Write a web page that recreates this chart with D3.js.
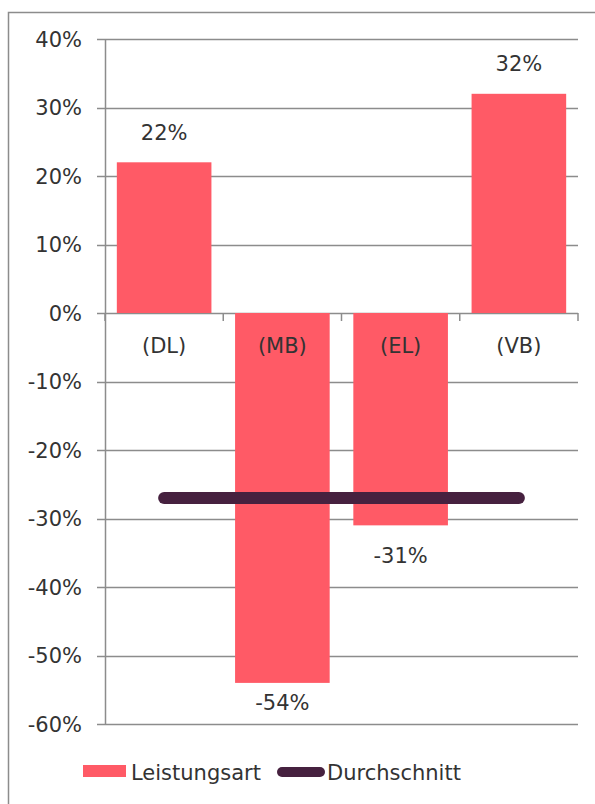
<!DOCTYPE html>
<html lang="de">
<head>
<meta charset="utf-8">
<title>Leistungsart vs. Durchschnitt</title>
<script src="https://cdn.jsdelivr.net/npm/d3@7"></script>
<style>
  body { margin: 0; background: #fff; }
  svg { display: block; }
  .lbl { font-family: "DejaVu Sans", sans-serif; font-size: 21px; fill: #333; }
</style>
</head>
<body>
<script>
// data
var categories = ["(DL)", "(MB)", "(EL)", "(VB)"];
var values = [0.22, -0.54, -0.31, 0.32];
var average = -0.27;
var yTicks = [0.4, 0.3, 0.2, 0.1, 0, -0.1, -0.2, -0.3, -0.4, -0.5, -0.6];
var legendLabels = ["Leistungsart", "Durchschnitt"];

var w = 595, h = 804;
var plotLeft = 105, plotRight = 578, plotTop = 39, plotBottom = 724;
var barColor = "#ff5a66", lineColor = "#46213f", gridColor = "#8c8c8c";

var svg = d3.select("body").append("svg")
  .attr("width", w).attr("height", h);

// outer border (right and bottom run off the page)
svg.append("rect")
  .attr("x", 8.5).attr("y", 12.5)
  .attr("width", 600).attr("height", 800)
  .attr("fill", "none").attr("stroke", gridColor).attr("stroke-width", 1.5);

var x = d3.scaleBand()
  .domain(categories)
  .range([plotLeft, plotRight])
  .paddingInner(0.2)
  .paddingOuter(0.1);

var y = d3.scaleLinear()
  .domain([-0.6, 0.4])
  .range([plotBottom, plotTop]);

// gridlines
svg.append("g").selectAll("line")
  .data(yTicks)
  .enter().append("line")
  .attr("x1", plotLeft - 8).attr("x2", plotRight)
  .attr("y1", function(d) { return Math.round(y(d)) + 0.5; })
  .attr("y2", function(d) { return Math.round(y(d)) + 0.5; })
  .attr("stroke", gridColor).attr("stroke-width", 1.5);

// y axis line
svg.append("line")
  .attr("x1", plotLeft + 0.5).attr("x2", plotLeft + 0.5)
  .attr("y1", plotTop).attr("y2", plotBottom)
  .attr("stroke", gridColor).attr("stroke-width", 1.5);

// y tick labels
svg.append("g").selectAll("text")
  .data(yTicks)
  .enter().append("text")
  .attr("class", "lbl")
  .attr("x", plotLeft - 23)
  .attr("y", function(d) { return y(d); })
  .attr("dy", "0.36em")
  .attr("text-anchor", "end")
  .text(function(d) { return Math.round(d * 100) + "%"; });

// bars
svg.append("g").selectAll("rect")
  .data(values)
  .enter().append("rect")
  .attr("x", function(d, i) { return x(categories[i]); })
  .attr("y", function(d) { return y(Math.max(0, d)); })
  .attr("width", x.bandwidth())
  .attr("height", function(d) { return Math.abs(y(d) - y(0)); })
  .attr("fill", barColor);

// category ticks on zero line
var step = x.step();
svg.append("g").selectAll("line")
  .data(d3.range(categories.length + 1))
  .enter().append("line")
  .attr("x1", function(i) { return plotLeft + i * step; })
  .attr("x2", function(i) { return plotLeft + i * step; })
  .attr("y1", y(0)).attr("y2", y(0) + 8)
  .attr("stroke", gridColor).attr("stroke-width", 1.5);

// category labels
svg.append("g").selectAll("text")
  .data(categories)
  .enter().append("text")
  .attr("class", "lbl")
  .attr("x", function(d) { return x(d) + x.bandwidth() / 2; })
  .attr("y", y(0) + 32)
  .attr("dy", "0.36em")
  .attr("text-anchor", "middle")
  .text(function(d) { return d; });

// value labels (pushed inside the plot when they would fall below it)
svg.append("g").selectAll("text")
  .data(values)
  .enter().append("text")
  .attr("class", "lbl")
  .attr("x", function(d, i) { return x(categories[i]) + x.bandwidth() / 2; })
  .attr("y", function(d) {
    return d >= 0 ? y(d) - 30 : Math.min(y(d) + 30, plotBottom - 22);
  })
  .attr("dy", "0.36em")
  .attr("text-anchor", "middle")
  .text(function(d) { return Math.round(d * 100) + "%"; });

// average line
var line = d3.line()
  .x(function(d) { return x(d) + x.bandwidth() / 2; })
  .y(function() { return y(average); });
svg.append("path")
  .datum([categories[0], categories[categories.length - 1]])
  .attr("d", line)
  .attr("fill", "none")
  .attr("stroke", lineColor)
  .attr("stroke-width", 12)
  .attr("stroke-linecap", "round");

// legend
var lg = svg.append("g");
lg.append("rect")
  .attr("x", 83).attr("y", 765).attr("width", 43).attr("height", 12)
  .attr("fill", barColor);
lg.append("text").attr("class", "lbl")
  .attr("x", 131).attr("y", 772).attr("dy", "0.36em")
  .text(legendLabels[0]);
lg.append("line")
  .attr("x1", 282).attr("x2", 320).attr("y1", 772).attr("y2", 772)
  .attr("stroke", lineColor).attr("stroke-width", 10).attr("stroke-linecap", "round");
lg.append("text").attr("class", "lbl")
  .attr("x", 327).attr("y", 772).attr("dy", "0.36em")
  .text(legendLabels[1]);
</script>
</body>
</html>
